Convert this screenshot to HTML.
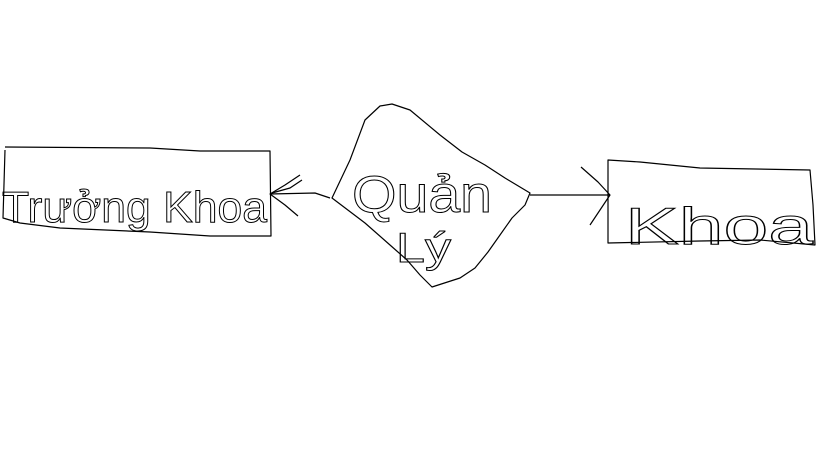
<!DOCTYPE html>
<html><head><meta charset="utf-8"><style>html,body{margin:0;padding:0;background:#fff;width:819px;height:460px;overflow:hidden}</style></head>
<body>
<svg width="819" height="460" viewBox="0 0 819 460" xmlns="http://www.w3.org/2000/svg">
<g fill="none" stroke="#000" stroke-width="1.2" stroke-linejoin="round">
<!-- left box -->
<path d="M5,150 L3,218 L20,223 L60,228 L150,232 L210,236 L271,236 L270,151 L200,151 L150,148 L5,147"/>
<!-- blob -->
<path d="M332,198 L350,160 L365,120 L380,106 L392,104 L410,110 L440,135 L462,152 L485,165 L505,178 L530,193 L525,205 L512,218 L500,235 L488,252 L475,268 L460,278 L432,287 L420,275 L407,260 L390,245 L365,223 Z"/>
<!-- left arrow -->
<path d="M330,198 L315,193 L270,194"/>
<path d="M300,175 L285,185 L270,194 L285,205 L298,216"/>
<path d="M302,180 L290,188 L272,193"/>
<!-- right arrow -->
<path d="M530,195 L610,195"/>
<path d="M581,167 L598,182 L610,195 L600,210 L590,225"/>
<!-- right box -->
<path d="M608,160 L608,243 L700,241 L760,240 L815,245 L813,205 L810,170 L700,168 L640,162 Z"/>
</g>
<g font-family="Liberation Sans, DejaVu Sans, sans-serif" fill="none" stroke="#000" stroke-width="1">
<text x="2" y="222" font-size="44" textLength="265" lengthAdjust="spacingAndGlyphs">Trưởng Khoa</text>
<text x="352" y="212" font-size="52" textLength="140" lengthAdjust="spacingAndGlyphs">Quản</text>
<text x="396" y="262" font-size="42" textLength="55" lengthAdjust="spacingAndGlyphs">Lý</text>
<text x="625" y="244" font-size="52" textLength="188" lengthAdjust="spacingAndGlyphs">Khoa</text>
</g>
</svg>
</body></html>
